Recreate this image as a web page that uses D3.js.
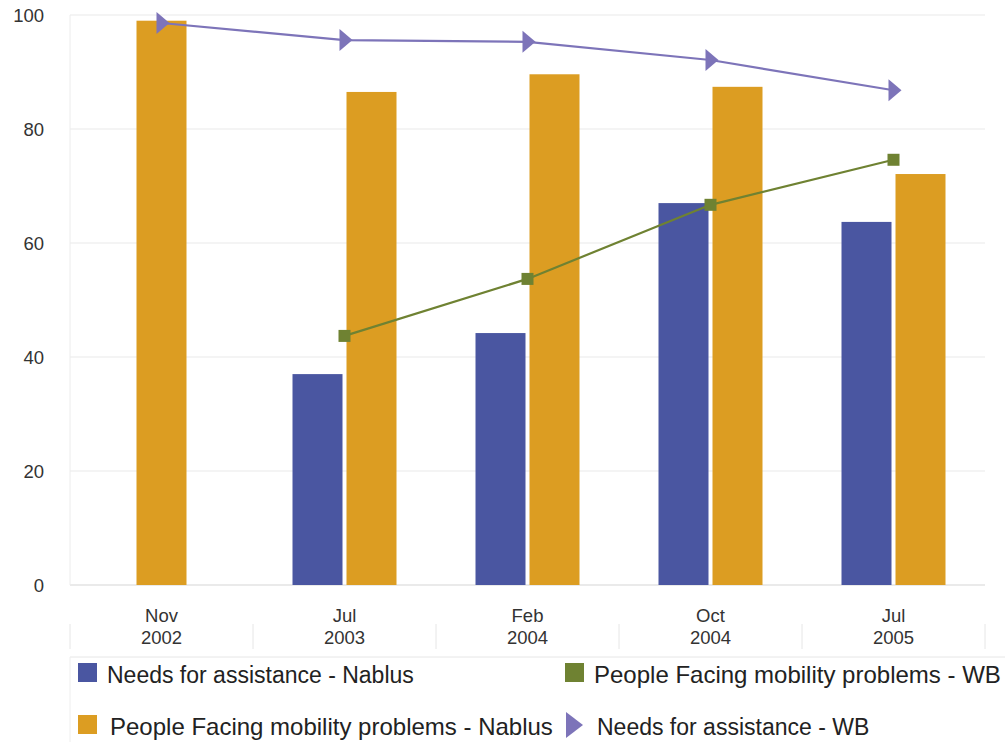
<!DOCTYPE html>
<html>
<head>
<meta charset="utf-8">
<script src="https://cdn.jsdelivr.net/npm/d3@7"></script>
<style>
  html, body { margin: 0; padding: 0; background: #fff; }
  svg { display: block; font-family: "Liberation Sans", Arial, sans-serif; }
</style>
</head>
<body>
<svg id="chart" width="1005" height="742"></svg>
<script>
// Survey periods
const categories = ["Nov 2002", "Jul 2003", "Feb 2004", "Oct 2004", "Jul 2005"];

// Bar series (Nablus), percent
const needsNablus    = [null, 37.0, 44.2, 67.0, 63.7];
const mobilityNablus = [99.0, 86.5, 89.6, 87.4, 72.1];

// Line series (West Bank), percent
const mobilityWB = [null, 43.7, 53.7, 66.7, 74.6];
const needsWB    = [98.6, 95.6, 95.3, 92.1, 86.8];

const yTicks = [0, 20, 40, 60, 80, 100];

const colors = {
  needsNablus: "#4a56a1",
  mobilityNablus: "#dc9d22",
  mobilityWB: "#6f8232",
  needsWB: "#7d74b9"
};

const svg = d3.select("#chart");
const plot = { left: 70, right: 985, top: 15, bottom: 585 };

const x = d3.scaleBand().domain(categories).range([plot.left, plot.right]);
const y = d3.scaleLinear().domain([0, 100]).range([plot.bottom, plot.top]);

// Gridlines
svg.append("g").selectAll("line").data(yTicks).join("line")
  .attr("x1", plot.left).attr("x2", plot.right)
  .attr("y1", d => y(d)).attr("y2", d => y(d))
  .attr("stroke", d => d === 0 ? "#d6d6d6" : "#e9e9e9")
  .attr("stroke-width", 1.2);

svg.append("line")
  .attr("x1", plot.left).attr("x2", plot.left)
  .attr("y1", plot.top).attr("y2", plot.bottom)
  .attr("stroke", "#ececec");

// Y axis labels
svg.append("g").selectAll("text").data(yTicks).join("text")
  .attr("x", 44).attr("y", d => y(d) + 6.5)
  .attr("text-anchor", "end")
  .attr("font-size", 18.5)
  .attr("fill", "#333")
  .text(d => d);

// Category labels with separators
const catG = svg.append("g");
categories.forEach(c => {
  const [m, yr] = c.split(" ");
  const cx = x(c) + x.bandwidth() / 2;
  const t = catG.append("text")
    .attr("text-anchor", "middle")
    .attr("font-size", 18.5)
    .attr("fill", "#333");
  t.append("tspan").attr("x", cx).attr("y", 622).text(m);
  t.append("tspan").attr("x", cx).attr("y", 644).text(yr);
});
const seps = x.domain().map(d => x(d)).concat([plot.right]);
catG.selectAll("line").data(seps).join("line")
  .attr("x1", d => d).attr("x2", d => d)
  .attr("y1", 624).attr("y2", 649)
  .attr("stroke", "#e6e6e6");

// Bars: grouped, centred in each band; a lone bar sits in the middle
const barW = 50, gap = 4;
const barsG = svg.append("g");
categories.forEach((c, i) => {
  const cx = x(c) + x.bandwidth() / 2;
  const items = [];
  if (needsNablus[i] != null) items.push({ v: needsNablus[i], col: colors.needsNablus });
  if (mobilityNablus[i] != null) items.push({ v: mobilityNablus[i], col: colors.mobilityNablus });
  const total = items.length * barW + (items.length - 1) * gap;
  items.forEach((it, k) => {
    barsG.append("rect")
      .attr("x", cx - total / 2 + k * (barW + gap))
      .attr("y", y(it.v))
      .attr("width", barW)
      .attr("height", y(0) - y(it.v))
      .attr("fill", it.col);
  });
});

// Lines
const cxOf = i => x(categories[i]) + x.bandwidth() / 2;
const line = d3.line()
  .defined(d => d.v != null)
  .x(d => cxOf(d.i))
  .y(d => y(d.v));

const wbMob = mobilityWB.map((v, i) => ({ v, i }));
const wbNeeds = needsWB.map((v, i) => ({ v, i }));

svg.append("path").datum(wbMob)
  .attr("d", line).attr("fill", "none")
  .attr("stroke", colors.mobilityWB).attr("stroke-width", 2.2);
svg.append("g").selectAll("rect").data(wbMob.filter(d => d.v != null)).join("rect")
  .attr("x", d => cxOf(d.i) - 6).attr("y", d => y(d.v) - 6)
  .attr("width", 12).attr("height", 12)
  .attr("fill", colors.mobilityWB);

svg.append("path").datum(wbNeeds)
  .attr("d", line).attr("fill", "none")
  .attr("stroke", colors.needsWB).attr("stroke-width", 2.2);
const tri = "M-5,-11 L8,0 L-5,11 Z";
svg.append("g").selectAll("path").data(wbNeeds).join("path")
  .attr("transform", d => `translate(${cxOf(d.i)},${y(d.v)})`)
  .attr("d", tri)
  .attr("fill", colors.needsWB);

// Legend
const lg = svg.append("g");
lg.append("line").attr("x1", 70).attr("x2", 1005).attr("y1", 657).attr("y2", 657).attr("stroke", "#e6e6e6");
lg.append("line").attr("x1", 70).attr("x2", 70).attr("y1", 657).attr("y2", 742).attr("stroke", "#eeeeee");

const legendItems = [
  { label: "Needs for assistance - Nablus", col: colors.needsNablus, sx: 78, sy: 673, tx: 107, shape: "rect", fs: 23 },
  { label: "People Facing mobility problems - Nablus", col: colors.mobilityNablus, sx: 78, sy: 725, tx: 110, shape: "rect", fs: 24 },
  { label: "People Facing mobility problems - WB", col: colors.mobilityWB, sx: 565, sy: 673, tx: 594, shape: "rect", fs: 24 },
  { label: "Needs for assistance - WB", col: colors.needsWB, sx: 566, sy: 725, tx: 597, shape: "tri", fs: 23 }
];
legendItems.forEach(it => {
  if (it.shape === "rect") {
    lg.append("rect").attr("x", it.sx).attr("y", it.sy - 10)
      .attr("width", 19).attr("height", 19).attr("fill", it.col);
  } else {
    lg.append("path")
      .attr("d", `M${it.sx},${it.sy - 13} L${it.sx + 17},${it.sy} L${it.sx},${it.sy + 13} Z`)
      .attr("fill", it.col);
  }
  lg.append("text").attr("x", it.tx).attr("y", it.sy + 10)
    .attr("font-size", it.fs).attr("fill", "#222")
    .text(it.label);
});
</script>
</body>
</html>
